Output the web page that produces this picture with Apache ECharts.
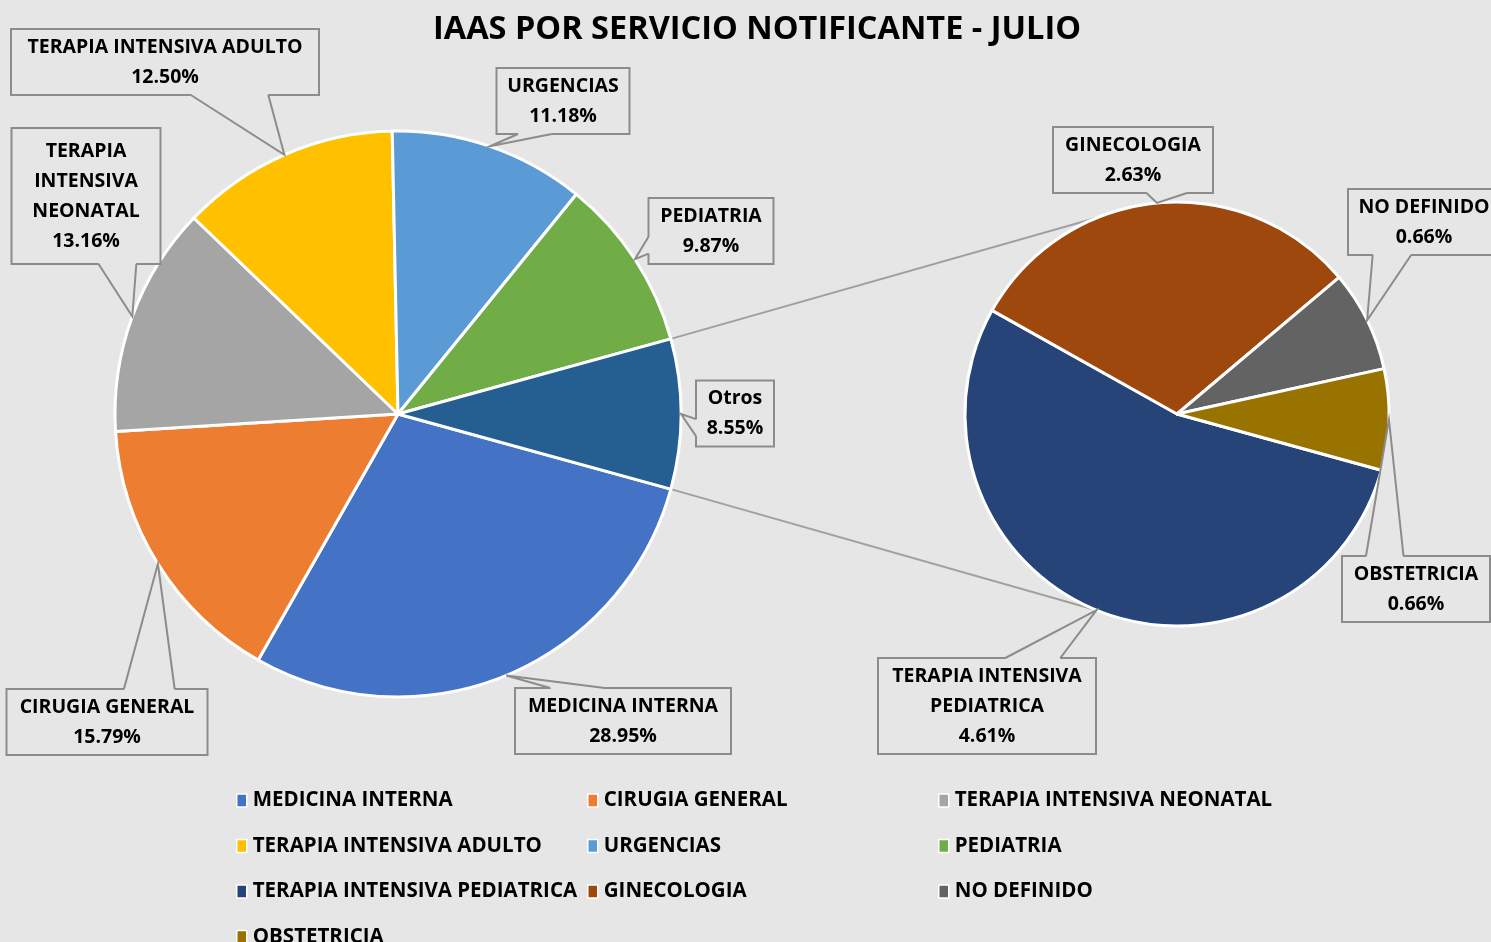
<!DOCTYPE html>
<html>
<head>
<meta charset="utf-8">
<title>IAAS por servicio notificante - julio</title>
<script src="https://cdn.jsdelivr.net/npm/echarts@6/dist/echarts.min.js"></script>
<style>
  html, body { margin: 0; padding: 0; background: #e7e6e6; }
  #chart { width: 1491px; height: 942px; }
</style>
</head>
<body>
<div id="chart"></div>
<script>
  // pie principal (el ultimo trozo "Otros" se desglosa en el pie secundario)
  var mainNames = ['MEDICINA INTERNA', 'CIRUGIA GENERAL', 'TERAPIA INTENSIVA NEONATAL',
    'TERAPIA INTENSIVA ADULTO', 'URGENCIAS', 'PEDIATRIA', 'Otros'];
  var mainValues = [28.95, 15.79, 13.16, 12.50, 11.18, 9.87, 8.55];
  var mainLabels = ['MEDICINA INTERNA', 'CIRUGIA GENERAL', 'TERAPIA\nINTENSIVA\nNEONATAL',
    'TERAPIA INTENSIVA ADULTO', 'URGENCIAS', 'PEDIATRIA', 'Otros'];

  // pie secundario
  var subNames = ['TERAPIA INTENSIVA PEDIATRICA', 'GINECOLOGIA', 'NO DEFINIDO', 'OBSTETRICIA'];
  var subValues = [4.61, 2.63, 0.66, 0.66];
  var subLabels = ['TERAPIA INTENSIVA\nPEDIATRICA', 'GINECOLOGIA', 'NO DEFINIDO', 'OBSTETRICIA'];

  var mainColors = ['#4472c4', '#ed7d31', '#a5a5a5', '#ffc000', '#5b9bd5', '#70ad47', '#255e91'];
  var subColors = ['#264478', '#9e480e', '#636363', '#997300'];

  // cuadros de etiqueta: centro y ancho
  var mainLabelPos = [[623, 721], [107, 722], [86, 196], [165, 62], [563, 101], [711, 231], [735, 413.5]];
  var mainLabelW = [216, 201, 149, 308, 133, 125, 78];
  var subLabelPos = [[987, 706], [1133, 160], [1424, 222], [1416, 589]];
  var subLabelW = [218, 160, 152, 148];

  var legendCols = [
    ['MEDICINA INTERNA', 'TERAPIA INTENSIVA ADULTO', 'TERAPIA INTENSIVA PEDIATRICA', 'OBSTETRICIA'],
    ['CIRUGIA GENERAL', 'URGENCIAS', 'GINECOLOGIA'],
    ['TERAPIA INTENSIVA NEONATAL', 'PEDIATRIA', 'NO DEFINIDO']
  ];
  var legendLeft = [236, 587, 938];

  var FONT = '"Open Sans", "Noto Sans", sans-serif';
  var BG = '#e7e6e6';
  var GRAY = '#8c8c8c';

  var C1 = [398, 414], R1 = 283;
  var C2 = [1177, 414], R2 = 212;

  function sum(a) { return a.reduce(function (s, v) { return s + v; }, 0); }
  var otrosFrac = mainValues[mainValues.length - 1] / sum(mainValues);
  var startAng = -otrosFrac * 180;   // "Otros" queda centrado a la derecha

  function pct(v) { return v.toFixed(2) + '%'; }

  function labelBox(widths, texts) {
    return {
      show: true,
      position: 'outside',
      color: '#000',
      fontFamily: FONT,
      fontWeight: 'bold',
      fontSize: 19.5,
      lineHeight: 30,
      align: 'center',
      verticalAlign: 'middle',
      backgroundColor: BG,
      borderColor: GRAY,
      borderWidth: 2,
      padding: [2, 0],
      formatter: function (p) { return texts[p.dataIndex] + '\n' + pct(p.value); }
    };
  }

  function toData(names, values, colors, widths) {
    return names.map(function (n, i) {
      return {
        name: n, value: values[i],
        itemStyle: { color: colors[i] },
        label: { width: widths[i] - 2, padding: n === 'TERAPIA INTENSIVA NEONATAL' ? [7, 0] : [2, 0] }
      };
    });
  }

  function layoutFrom(pos) {
    return function (p) {
      return { x: pos[p.dataIndex][0], y: pos[p.dataIndex][1], align: 'center', verticalAlign: 'middle' };
    };
  }

  function connector(angDeg) {
    // une el borde de "Otros" con el pie secundario
    var a = angDeg * Math.PI / 180;
    var b = (angDeg > 0 ? 112 : -112) * Math.PI / 180;
    return {
      type: 'line', silent: true, z: 0,
      shape: {
        x1: C1[0] + R1 * Math.cos(a), y1: C1[1] - R1 * Math.sin(a),
        x2: C2[0] + R2 * Math.cos(b), y2: C2[1] - R2 * Math.sin(b)
      },
      style: { stroke: '#a0a0a0', lineWidth: 2 }
    };
  }

  var chart = echarts.init(document.getElementById('chart'));

  var legends = legendCols.map(function (col, i) {
    return {
      data: col,
      orient: 'vertical',
      left: legendLeft[i],
      top: 790,
      height: 200,
      padding: 0,
      itemGap: 24.5,
      itemWidth: 10,
      itemHeight: 13,
      icon: 'rect',
      selectedMode: false,
      itemStyle: { borderColor: '#fff', borderWidth: 1.5 },
      textStyle: { fontFamily: FONT, fontWeight: 'bold', fontSize: 20.5, lineHeight: 20, color: '#000', padding: [0, 0, 0, 1] }
    };
  });

  chart.setOption({
    backgroundColor: BG,
    animation: false,
    title: {
      text: 'IAAS POR SERVICIO NOTIFICANTE - JULIO',
      left: 752,
      textAlign: 'center',
      top: 8,
      textStyle: { fontFamily: FONT, fontWeight: 'bold', fontSize: 32.5, color: '#000' }
    },
    legend: legends,
    series: [
      {
        type: 'pie',
        center: C1,
        radius: R1,
        startAngle: startAng,
        clockwise: true,
        avoidLabelOverlap: false,
        data: toData(mainNames, mainValues, mainColors, mainLabelW),
        itemStyle: { borderColor: '#fff', borderWidth: 3 },
        label: labelBox(mainLabelW, mainLabels),
        labelLine: { show: false },
        labelLayout: layoutFrom(mainLabelPos),
        emphasis: { disabled: true }
      },
      {
        type: 'pie',
        center: C2,
        radius: R2,
        startAngle: startAng,
        clockwise: true,
        avoidLabelOverlap: false,
        data: toData(subNames, subValues, subColors, subLabelW),
        itemStyle: { borderColor: '#fff', borderWidth: 3 },
        label: labelBox(subLabelW, subLabels),
        labelLine: { show: false },
        labelLayout: layoutFrom(subLabelPos),
        emphasis: { disabled: true }
      }
    ]
  });

  // punta de cada globo: punto medio del arco del trozo
  function tips(values, center, r) {
    var tot = sum(values), acc = 0;
    return values.map(function (v) {
      var mid = startAng - (acc + v / 2) / tot * 360;
      acc += v;
      var a = mid * Math.PI / 180;
      return [center[0] + r * Math.cos(a), center[1] - r * Math.sin(a)];
    });
  }

  // globo tipo "wedgeRectCallout" de Excel
  function wedge(rect, tip) {
    var cx = rect.x + rect.width / 2, cy = rect.y + rect.height / 2;
    var dx = tip[0] - cx, dy = tip[1] - cy;
    var b1, b2, in1, in2, k = 2;
    if (Math.abs(dy) - Math.abs(dx * rect.height / rect.width) > 0) {
      var ey = dy > 0 ? rect.y + rect.height - 1 : rect.y + 1;
      var g = dx > 0 ? [7, 10] : [2, 5];
      var xa = rect.x + rect.width * g[0] / 12, xb = rect.x + rect.width * g[1] / 12;
      b1 = [xa, ey]; b2 = [xb, ey];
      in1 = [xa + 1, ey - (dy > 0 ? k : -k)]; in2 = [xb - 1, ey - (dy > 0 ? k : -k)];
    } else {
      var ex = dx > 0 ? rect.x + rect.width - 1 : rect.x + 1;
      var h = dy > 0 ? [7, 10] : [2, 5];
      var ya = rect.y + rect.height * h[0] / 12, yb = rect.y + rect.height * h[1] / 12;
      b1 = [ex, ya]; b2 = [ex, yb];
      in1 = [ex - (dx > 0 ? k : -k), ya + 1]; in2 = [ex - (dx > 0 ? k : -k), yb - 1];
    }
    return [
      { type: 'polygon', silent: true, z: 100, shape: { points: [in1, b1, tip, b2, in2] }, style: { fill: BG } },
      { type: 'polyline', silent: true, z: 101, shape: { points: [b1, tip, b2] }, style: { stroke: GRAY, lineWidth: 2, fill: null } }
    ];
  }

  var graphics = [connector(otrosFrac * 180), connector(-otrosFrac * 180)];
  var allTips = [tips(mainValues, C1, R1), tips(subValues, C2, R2)];
  [0, 1].forEach(function (s) {
    var data = chart.getModel().getSeriesByIndex(s).getData();
    allTips[s].forEach(function (tip, i) {
      var label = data.getItemGraphicEl(i).getTextContent();
      var r = label.getBoundingRect().clone();
      label.updateTransform();
      r.applyTransform(label.transform);
      graphics = graphics.concat(wedge(r, tip));
    });
  });
  chart.setOption({ graphic: graphics });
</script>
</body>
</html>
